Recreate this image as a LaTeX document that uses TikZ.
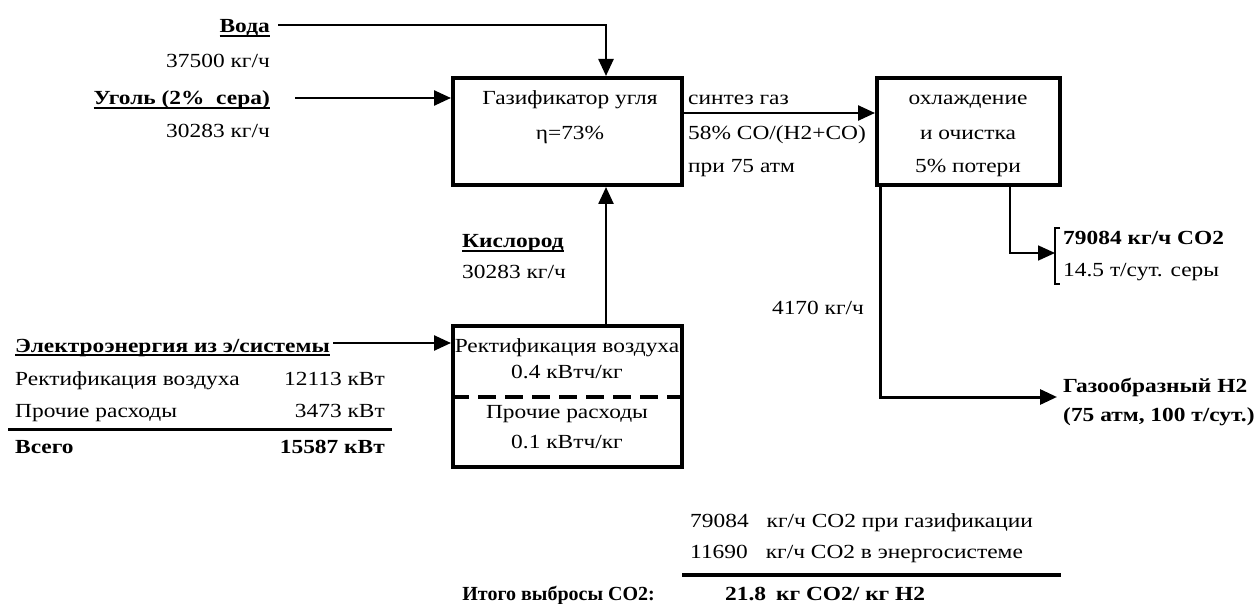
\documentclass[tikz,border=0pt]{standalone}
\usepackage{fontspec}
\setmainfont{Liberation Serif}[FakeStretch=1.17]
\newfontfamily\plainserif{Liberation Serif}
\usetikzlibrary{arrows.meta}
\newcommand\ulbold[1]{\setbox0\hbox{\bfseries #1}\rlap{\rule[-4pt]{\wd0}{2pt}}\box0}

\tikzset{
  block/.style={draw, line width=4pt, inner sep=0pt},
  lbl/.style={inner sep=0pt, text height=14pt, text depth=4pt},
  flow/.style={line width=2.5pt, -{Triangle[length=17pt,width=15pt]}},
  flowthin/.style={line width=1.7pt, -{Triangle[length=17pt,width=15pt]}},
  rulebar/.style={line width=3pt}
}

\begin{document}
\begin{tikzpicture}[x=1pt, y=-1pt, every node/.style={font=\fontsize{20}{30}\selectfont}]
			%%%%% START %%%%%
			\useasboundingbox (0,0) rectangle (1259,604);
			
			% boxes
			\node[block, minimum width=229pt, minimum height=107pt] (gasif) at (567.5,131.5) {};
			\node[block, minimum width=183pt, minimum height=107pt] (cool) at (968.5,131.5) {};
			\node[block, minimum width=229pt, minimum height=141pt] (airsep) at (567.5,396.5) {};
			\draw[line width=4pt, dash pattern=on 18pt off 9pt] (airsep.west) -- (airsep.east);
			
			\node[lbl] (gasifA) at (570,100) {Газификатор угля};
			\node[lbl] (gasifB) at (570,135) {η=73\%};
			\node[lbl] (coolA) at (968,100) {охлаждение};
			\node[lbl] (coolB) at (968,135) {и очистка};
			\node[lbl] (coolC) at (968,168) {5\% потери};
			\node[lbl] (airA) at (567,347) {Ректификация воздуха};
			\node[lbl] (airB) at (567,373) {0.4 кВтч/кг};
			\node[lbl] (airC) at (567,413) {Прочие расходы};
			\node[lbl] (airD) at (567,443) {0.1 кВтч/кг};
			
			% inputs
			\node[lbl, anchor=east] (water) at (270,28) {\ulbold{Вода}};
			\node[lbl, anchor=east] (waterq) at (270,63) {37500 кг/ч};
			\node[lbl, anchor=east] (coal) at (270,100) {\ulbold{Уголь (2\%\ \ сера)}};
			\node[lbl, anchor=east] (coalq) at (270,133) {30283 кг/ч};
			\node[lbl, anchor=west] (oxy) at (462,243) {\ulbold{Кислород}};
			\node[lbl, anchor=west] (oxyq) at (462,274) {30283 кг/ч};
			
			\coordinate (wstart) at (278,25);
			\coordinate (cstart) at (295,98);
			\coordinate (estart) at (333,343);
			\draw[flow] (wstart) -| ([xshift=38.5pt]gasif.north);
			\draw[flow] (cstart) -- (gasif.west |- cstart);
			\draw[flow] ([xshift=38.5pt]airsep.north) -- ([xshift=38.5pt]gasif.south);
			\draw[flow] (estart) -- (airsep.west |- estart);
			
			% syngas
			\node[lbl, anchor=west] (synA) at (688,100) {синтез газ};
			\node[lbl, anchor=west] (synB) at (688,135) {58\% CO/(H2+CO)};
			\node[lbl, anchor=west] (synC) at (688,168) {при 75 атм};
			\draw[flow] ([yshift=18.5pt]gasif.east) -- ([yshift=18.5pt]cool.west);
			
			% outputs
			\node[anchor=west, align=left, inner xsep=8pt, inner ysep=3pt, font=\fontsize{20}{32}\selectfont] (co2) at (1055,256) {\textbf{79084 кг/ч CO2}\\14.5 т/сут. серы};
			\draw[line width=1.2pt] ([xshift=5pt]co2.north west) -- (co2.north west) -- (co2.south west) -- ([xshift=5pt]co2.south west);
			\draw[flowthin] ([xshift=41.5pt]cool.south) |- ([yshift=3pt]co2.west);
			
			\node[anchor=west, align=left, inner xsep=6pt, font=\bfseries\fontsize{20}{29}\selectfont] (h2) at (1057,402) {Газообразный H2\\(75 атм, 100 т/сут.)};
			\draw[flow, line width=3pt] ([xshift=-88.5pt]cool.south) |- ([yshift=5pt]h2.west);
			\node[lbl] (h2q) at (818,310) {4170 кг/ч};
			
			% electricity
			\node[lbl, anchor=west] (elec) at (15,347) {\ulbold{Электроэнергия из э/системы}};
			\node[lbl, anchor=west] (elecA) at (15,380) {Ректификация воздуха};
			\node[lbl, anchor=east] (elecAq) at (385,380) {12113 кВт};
			\node[lbl, anchor=west] (elecB) at (15,412) {Прочие расходы};
			\node[lbl, anchor=east] (elecBq) at (385,412) {3473 кВт};
			\draw[rulebar] (8,429) -- (392,429);
			\node[lbl, anchor=west] (elecT) at (15,448) {\textbf{Всего}};
			\node[lbl, anchor=east] (elecTq) at (385,448) {\textbf{15587 кВт}};
			
			% emissions
			\node[lbl, anchor=west] (emA) at (690,522) {79084\hspace{18pt}кг/ч CO2 при газификации};
			\node[lbl, anchor=west] (emB) at (690,553) {11690\hspace{18pt}кг/ч CO2 в энергосистеме};
			\draw[line width=4pt] (682,575) -- (1061,575);
			\node[lbl, anchor=east] (emT) at (655,595) {\plainserif\bfseries Итого выбросы CO2:};
			\node[lbl, anchor=west] (emTq) at (725,595) {\textbf{21.8\hspace{10pt}кг CO2/ кг H2}};
			
			%%%%% END %%%%%
\end{tikzpicture}
\end{document}
